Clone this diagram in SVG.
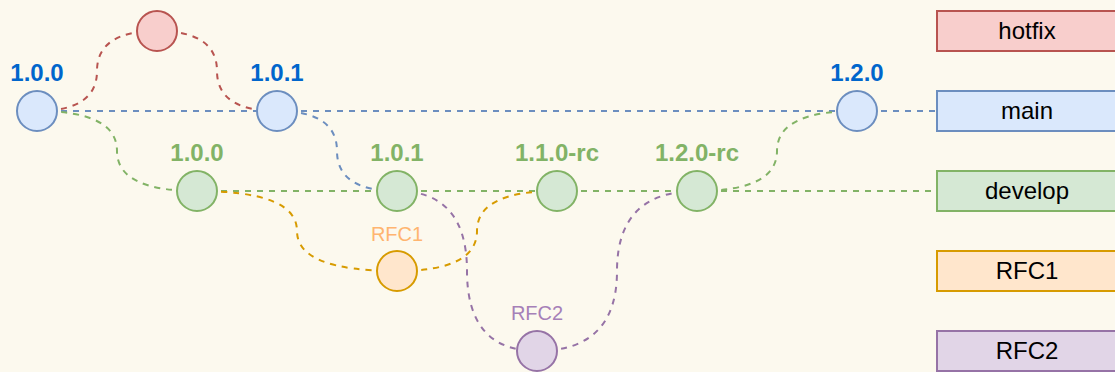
<svg xmlns="http://www.w3.org/2000/svg" width="1115" height="372" viewBox="0 0 1115 372">
<style>
.e{fill:none;stroke-width:2;stroke-dasharray:6 6}
.red{stroke:#b85450}.blue{stroke:#6c8ebf}.green{stroke:#82b366}.orange{stroke:#d79b00}.purple{stroke:#9673a6}
.c{stroke-width:2}
.fr{fill:#f8cecc;stroke:#b85450}.fb{fill:#dae8fc;stroke:#6c8ebf}.fg{fill:#d5e8d4;stroke:#82b366}.fo{fill:#ffe6cc;stroke:#d79b00}.fp{fill:#e1d5e7;stroke:#9673a6}
.v{font-family:"Liberation Sans",Arial,sans-serif;font-weight:bold;font-size:24px;text-anchor:middle}
.vb{fill:#0066cc}.vg{fill:#82b366}
.r{font-family:"Liberation Sans",Arial,sans-serif;font-size:20px;text-anchor:middle}
.bl{font-family:"Liberation Sans",Arial,sans-serif;font-size:24px;text-anchor:middle;fill:#000}
</style>
<rect width="1115" height="372" fill="#fcf9ee"/>
<g id="connectors">
<path class="e blue" d="M37,111 H277"/>
<path class="e blue" d="M277,111 H857"/>
<path class="e blue" d="M857,111 H937"/>
<path class="e green" d="M197,191 H397"/>
<path class="e green" d="M397,191 H557"/>
<path class="e green" d="M557,191 H697"/>
<path class="e green" d="M697,191 H937"/>
<path class="e red" d="M37,111 Q97,111 97,71 Q97,31 157,31"/>
<path class="e red" d="M157,31 Q217,31 217,71 Q217,111 277,111"/>
<path class="e green" d="M37,111 Q117,111 117,151 Q117,191 197,191"/>
<path class="e blue" d="M277,111 Q337,111 337,151 Q337,191 397,191"/>
<path class="e orange" d="M197,191 Q297,191 297,231 Q297,271 397,271"/>
<path class="e orange" d="M397,271 Q477,271 477,231 Q477,191 557,191"/>
<path class="e purple" d="M397,191 Q467,191 467,271 Q467,351 537,351"/>
<path class="e purple" d="M537,351 Q617,351 617,271 Q617,191 697,191"/>
<path class="e green" d="M697,191 Q777,191 777,151 Q777,111 857,111"/>
</g>
<g id="n-main-100"><circle class="c fb" cx="37" cy="111" r="20"/><text class="v vb" x="37" y="81">1.0.0</text></g>
<g id="n-hotfix"><circle class="c fr" cx="157" cy="31" r="20"/></g>
<g id="n-main-101"><circle class="c fb" cx="277" cy="111" r="20"/><text class="v vb" x="277" y="81">1.0.1</text></g>
<g id="n-main-120"><circle class="c fb" cx="857" cy="111" r="20"/><text class="v vb" x="857" y="81">1.2.0</text></g>
<g id="n-dev-100"><circle class="c fg" cx="197" cy="191" r="20"/><text class="v vg" x="197" y="161">1.0.0</text></g>
<g id="n-dev-101"><circle class="c fg" cx="397" cy="191" r="20"/><text class="v vg" x="397" y="161">1.0.1</text></g>
<g id="n-dev-110rc"><circle class="c fg" cx="557" cy="191" r="20"/><text class="v vg" x="557" y="161">1.1.0-rc</text></g>
<g id="n-dev-120rc"><circle class="c fg" cx="697" cy="191" r="20"/><text class="v vg" x="697" y="161">1.2.0-rc</text></g>
<g id="n-rfc1"><circle class="c fo" cx="397" cy="271" r="20"/><text class="r" x="397" y="241" fill="#ffb570">RFC1</text></g>
<g id="n-rfc2"><circle class="c fp" cx="537" cy="351" r="20"/><text class="r" x="537" y="320" fill="#a680b8">RFC2</text></g>
<g id="b-hotfix"><rect class="c fr" x="937" y="11" width="180" height="40"/><text class="bl" x="1027" y="39">hotfix</text></g>
<g id="b-main"><rect class="c fb" x="937" y="91" width="180" height="40"/><text class="bl" x="1027" y="119">main</text></g>
<g id="b-develop"><rect class="c fg" x="937" y="171" width="180" height="40"/><text class="bl" x="1027" y="199">develop</text></g>
<g id="b-rfc1"><rect class="c fo" x="937" y="251" width="180" height="40"/><text class="bl" x="1027" y="279">RFC1</text></g>
<g id="b-rfc2"><rect class="c fp" x="937" y="331" width="180" height="40"/><text class="bl" x="1027" y="359">RFC2</text></g>
</svg>
